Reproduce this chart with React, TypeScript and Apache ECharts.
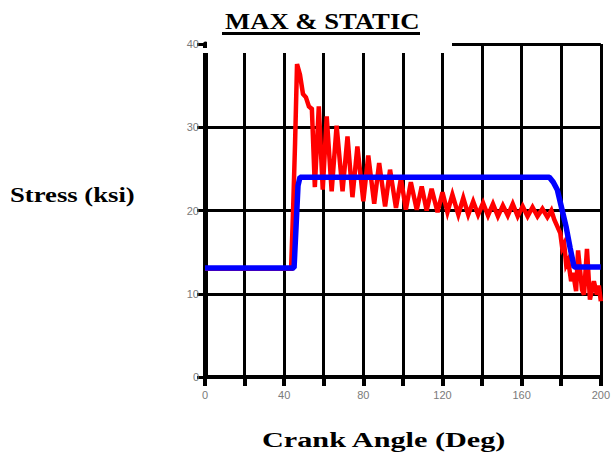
import React, { useEffect, useRef } from "react";
import * as echarts from "echarts";

const titleText = "MAX & STATIC";
const xName = "Crank Angle (Deg)";
const yName = "Stress (ksi)";

// Static stress (blue)
const staticAngles = [0, 45, 46, 47, 48, 174, 176, 178, 180.5, 182.5, 184.5, 186.5, 200];
const staticStress = [13.1, 13.1, 18, 23, 24, 24, 23.4, 22.5, 20, 18, 15.5, 13.2, 13.2];

// Max (dynamic) stress (red)
const maxAngles = [
  0, 43.5, 44.5, 45.5, 46.5, 48, 49.5, 51, 52.5, 54,
  55.5, 57.5, 59.5, 61.5, 64, 66.5, 69.5, 72, 74.5, 77,
  80, 82.5, 85.5, 88, 91, 93.5, 96.5, 99, 101.5, 104,
  107, 109.5, 112, 114.5, 117.5, 120, 122.5, 125, 128, 130.5,
  133, 135.5, 138, 140.5, 143, 145.5, 148, 150.5, 153, 155.5,
  158, 160.5, 163, 165.5, 168, 170.5, 173, 175, 176.5, 178,
  179.5, 180.5, 181.5, 182.5, 183.5, 185, 186, 187.5, 188.5, 190.5,
  191.5, 193, 194.5, 196.5, 198, 199, 200,
];
const maxStress = [
  13, 13, 20, 28, 37.6, 36.3, 34, 33.6, 32.5, 32.2,
  22.8, 32.5, 22.5, 31.3, 22.3, 30.2, 22.3, 28.9, 21.6, 27.7,
  21.1, 26.6, 20.8, 25.7, 20.5, 24.9, 20.3, 23.9, 20.1, 23.4,
  20.1, 22.9, 20, 22.6, 19.8, 22.2, 19.8, 21.9, 19.5, 21.5,
  19.5, 21.1, 19.5, 20.9, 19.4, 20.8, 19.3, 20.6, 19.4, 20.8,
  19.3, 20.5, 19.3, 20.4, 19.3, 20.2, 19.2, 20, 18.9, 18.1,
  17.3, 15.5, 16, 13.5, 14, 11.5, 12.5, 10.3, 15.2, 10.5,
  9.9, 15.4, 9.3, 11.5, 9.9, 11, 9.1,
];

const xLabelValues = [0, 40, 80, 120, 160, 200];

export default function App() {
  const ref = useRef<HTMLDivElement>(null);
  useEffect(() => {
    if (!ref.current) return;
    const chart = echarts.init(ref.current, null, { renderer: "svg" });
    const labelStyle = {
      color: "#7a7a7a",
      fontSize: 11,
      fontFamily: "Liberation Sans, Arial, sans-serif",
    };
    chart.setOption({
      animation: false,
      backgroundColor: "#ffffff",
      grid: { left: 205, right: 12, top: 44, bottom: 81, containLabel: false },
      xAxis: {
        type: "value",
        min: 0,
        max: 200,
        interval: 20,
        axisLine: { show: true, onZero: false, lineStyle: { color: "#000", width: 4 } },
        axisTick: { show: true, length: 9, lineStyle: { color: "#000", width: 4 } },
        splitLine: { show: true, lineStyle: { color: "#000", width: 3 } },
        axisLabel: {
          ...labelStyle,
          margin: 12,
          formatter: (v: number) => (xLabelValues.includes(v) ? String(v) : ""),
        },
      },
      yAxis: {
        type: "value",
        min: 0,
        max: 40,
        interval: 10,
        axisLine: { show: true, lineStyle: { color: "#000", width: 5 } },
        axisTick: { show: true, length: 8, lineStyle: { color: "#000", width: 3 } },
        splitLine: { show: true, lineStyle: { color: "#000", width: 3 } },
        axisLabel: { ...labelStyle, margin: 6 },
      },
      series: [
        {
          type: "line",
          name: "MAX",
          data: maxAngles.map((a, i) => [a, maxStress[i]]),
          symbol: "none",
          lineStyle: { color: "#ff0000", width: 4.5, join: "miter" },
          z: 3,
        },
        {
          type: "line",
          name: "STATIC",
          data: staticAngles.map((a, i) => [a, staticStress[i]]),
          symbol: "none",
          lineStyle: { color: "#0000ff", width: 5.5 },
          z: 4,
        },
      ],
      graphic: [
        { type: "rect", z: 100, shape: { x: 207, y: 38, width: 245, height: 15 }, style: { fill: "#fff" } },
        { type: "rect", z: 100, shape: { x: 200, y: 48, width: 8, height: 5 }, style: { fill: "#fff" } },
        {
          type: "text",
          z: 101,
          x: 225,
          y: 21,
          scaleX: 1.16,
          style: {
            text: titleText,
            font: "bold 23px 'Liberation Serif', 'Times New Roman', serif",
            fill: "#000",
            textVerticalAlign: "middle",
          },
        },
        { type: "rect", z: 101, shape: { x: 222, y: 32, width: 198, height: 3 }, style: { fill: "#000" } },
        {
          type: "text",
          z: 101,
          x: 10,
          y: 195,
          scaleX: 1.27,
          style: {
            text: yName,
            font: "bold 21px 'Liberation Serif', 'Times New Roman', serif",
            fill: "#000",
            textVerticalAlign: "middle",
          },
        },
        {
          type: "text",
          z: 101,
          x: 262,
          y: 440,
          scaleX: 1.44,
          style: {
            text: xName,
            font: "bold 21px 'Liberation Serif', 'Times New Roman', serif",
            fill: "#000",
            textVerticalAlign: "middle",
          },
        },
      ],
    });
    return () => chart.dispose();
  }, []);
  return (
    <div
      ref={ref}
      style={{ position: "fixed", left: 0, top: 0, width: 613, height: 458 }}
    />
  );
}
